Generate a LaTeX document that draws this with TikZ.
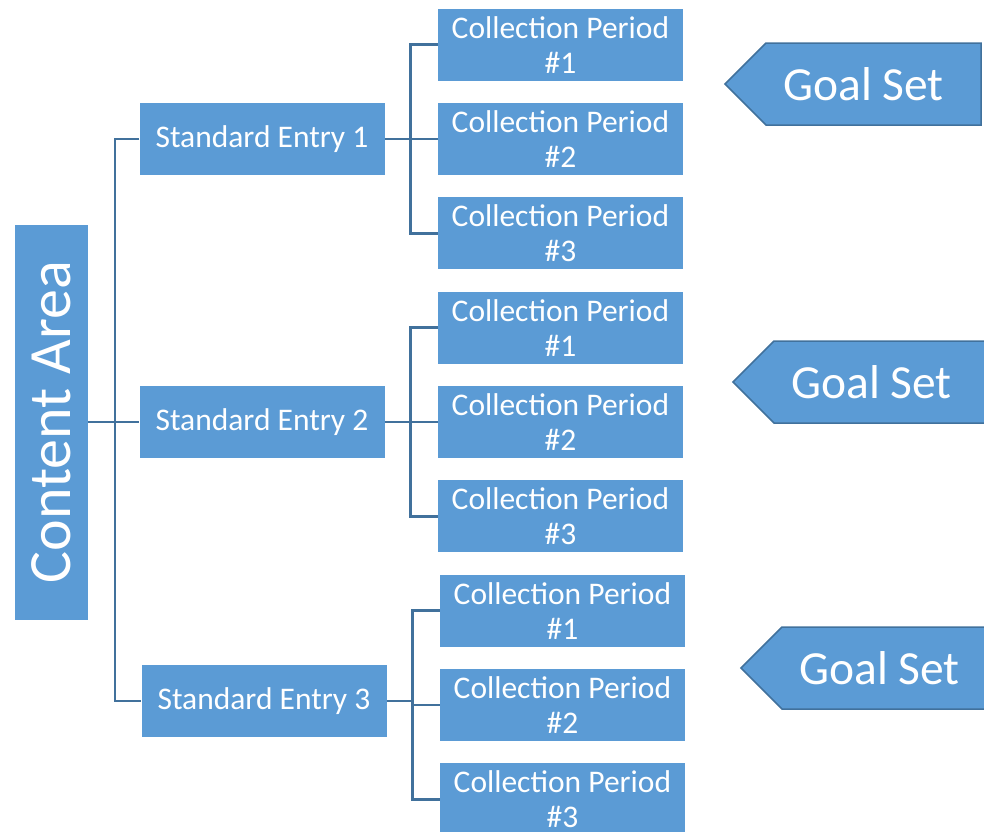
\documentclass[tikz,border=0pt]{standalone}
\usepackage{fontspec}
\setmainfont{Carlito}
\usetikzlibrary{calc,positioning,shapes.symbols}
\definecolor{boxblue}{HTML}{5B9BD5}
\definecolor{lineblue}{HTML}{41719C}

\begin{document}
\begin{tikzpicture}[x=1pt,y=-1pt,node distance=22pt and 53pt,
    box/.style={fill=boxblue,text=white,inner sep=0pt,minimum width=245pt,
      minimum height=72pt,align=center,font=\fontsize{31.5}{35}\selectfont},
    goal/.style={signal,signal to=west,signal pointer angle=90,draw=lineblue,
      line width=1.5pt,fill=boxblue,text=white,minimum width=256pt,
      minimum height=82pt,font=\fontsize{47.5}{50}\selectfont},
    link/.style={draw=lineblue,line width=2.5pt}]

            \useasboundingbox (0,0) rectangle (984,831);

            % content area and standard entries
            \node[box,rotate=90,minimum width=395pt,minimum height=73pt,
                  font=\fontsize{60}{64}\selectfont] (ca) at (51.5,422) {Content Area};

            \node[box] (e1) at (262,139) {Standard Entry 1};

            \node[box] (e2) at (262,422) {Standard Entry 2};

            \node[box] (e3) at (264,701) {Standard Entry 3};

            % collection periods
            \node[box] (p12) [right=of e1] {Collection Period\\\#2};

            \node[box] (p11) [above=of p12] {Collection Period\\\#1};

            \node[box] (p13) [below=of p12] {Collection Period\\\#3};

            \node[box] (p22) [right=of e2] {Collection Period\\\#2};

            \node[box] (p21) [above=of p22] {Collection Period\\\#1};

            \node[box] (p23) [below=of p22] {Collection Period\\\#3};

            \node[box] (p32) [right=of e3,yshift=-4pt] {Collection Period\\\#2};

            \node[box] (p31) [above=of p32] {Collection Period\\\#1};

            \node[box] (p33) [below=of p32] {Collection Period\\\#3};

            % goal sets
            \node[goal] (g1) at (873.5,84) {Goal Set\hspace*{20pt}};

            \node[goal] (g2) at (881.5,382) {Goal Set\hspace*{20pt}};

            \node[goal] (g3) at (889.5,668) {Goal Set\hspace*{20pt}};

            % connectors
            \coordinate (bus) at ($(ca.south)+(27,0)$);

            \path[link] (ca.south) -- (bus) -- (e2.west)
                        (e1.west) -| (bus) |- (e3.west);

            \path[link] (e1.east) -- (p12.west)
                        (p11.west) -- ++(-27,0) |- (p13.west);

            \path[link] (e2.east) -- (p22.west)
                        (p21.west) -- ++(-27,0) |- (p23.west);

            \path[link] (p31.west) -- ++(-27,0) coordinate (b3) |- (p33.west)
                        (b3 |- p32.west) -- (p32.west)
                        (e3.east) -- (e3.east -| b3);

        \end{tikzpicture}
\end{document}
